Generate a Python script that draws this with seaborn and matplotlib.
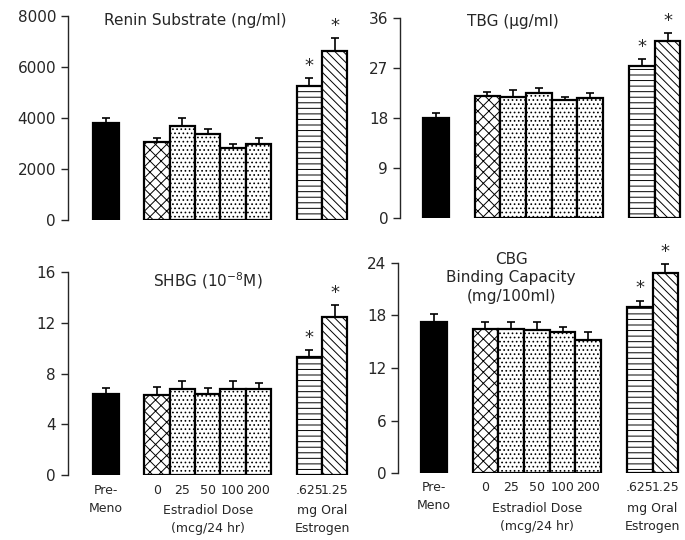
import numpy as np
import pandas as pd
import seaborn as sns
import matplotlib.pyplot as plt
from matplotlib import transforms

# Values (mean and upper SEM)
x_labels = ['Pre-\nMeno', '0', '25', '50', '100', '200', '.625', '1.25']

renin = [3800, 3030, 3660, 3370, 2810, 2970, 5230, 6630]
renin_err = [190, 170, 330, 200, 170, 230, 330, 500]

tbg = [18.0, 22.0, 21.9, 22.5, 21.3, 21.7, 27.4, 32.0]
tbg_err = [0.9, 0.8, 1.2, 0.9, 0.6, 0.9, 1.2, 1.3]

shbg = [6.4, 6.3, 6.8, 6.4, 6.8, 6.8, 9.3, 12.5]
shbg_err = [0.45, 0.65, 0.6, 0.45, 0.6, 0.5, 0.6, 0.9]

cbg = [17.3, 16.4, 16.4, 16.3, 16.1, 15.2, 19.0, 22.8]
cbg_err = [0.9, 0.9, 0.8, 0.9, 0.6, 0.9, 0.7, 1.1]

significant = [False, False, False, False, False, False, True, True]

# Layout / styling
bar_pos = [0, 2, 3, 4, 5, 6, 8, 9]
hatches = ['', 'xxx', '....', '....', '....', '....', '---', '\\\\\\\\']
faces = ['black'] + ['white'] * 7

sns.set_style('ticks')
plt.rcParams['font.family'] = ['DejaVu Sans']
plt.rcParams['hatch.linewidth'] = 0.7

fig = plt.figure(figsize=(6.85, 5.4), dpi=100)


def draw_panel(rect, xlim, vals, errs, ymax, step, title, tx, ty, show_x):
    ax = fig.add_axes(rect)
    df = pd.DataFrame({'pos': bar_pos, 'val': vals})
    sns.barplot(data=df, x='pos', y='val', native_scale=True, width=1.0,
                color='white', edgecolor='black', linewidth=1.6,
                errorbar=None, ax=ax)
    for p, h, fc in zip(ax.patches, hatches, faces):
        p.set_hatch(h)
        p.set_facecolor(fc)
    ax.errorbar(bar_pos, vals, yerr=[np.zeros(len(vals)), errs], fmt='none',
                ecolor='black', elinewidth=1.2, capsize=3, capthick=1.2)

    # asterisks for significant bars
    for x, v, e, s in zip(bar_pos, vals, errs, significant):
        if s:
            ax.text(x, v + e + ymax * 0.015, '*', ha='center', va='bottom',
                    fontsize=13)

    ax.set_xlim(*xlim)
    ax.set_ylim(0, ymax)
    ax.set_yticks(np.arange(0, ymax + step / 2, step))
    ax.set_ylabel('')
    ax.set_xlabel('')
    for side in ['top', 'right', 'bottom']:
        ax.spines[side].set_visible(False)
    ax.spines['left'].set_linewidth(1.0)
    ax.tick_params(axis='y', direction='out', length=5, width=1, labelsize=11)

    trans = transforms.blended_transform_factory(ax.transData, ax.transAxes)
    ax.text(tx, ty, title, transform=trans, ha='center', va='center',
            fontsize=11, linespacing=1.3)

    if show_x:
        ax.set_xticks(bar_pos)
        ax.set_xticklabels(x_labels, fontsize=9, linespacing=1.5)
        ax.tick_params(axis='x', length=0, pad=6)
        ax.text(4, -0.14, 'Estradiol Dose\n(mcg/24 hr)', transform=trans,
                ha='center', va='top', fontsize=9, linespacing=1.5)
        ax.text(8.5, -0.14, 'mg Oral\nEstrogen', transform=trans,
                ha='center', va='top', fontsize=9, linespacing=1.5)
    else:
        ax.set_xticks([])
    return ax


draw_panel([0.099, 0.593, 0.412, 0.378], (-1.5, 9.6), renin, renin_err,
           8000, 2000, 'Renin Substrate (ng/ml)', 3.5, 0.975, False)
draw_panel([0.584, 0.596, 0.413, 0.370], (-1.4, 9.6), tbg, tbg_err,
           36, 9, 'TBG (\u03bcg/ml)', 3.0, 0.985, False)
draw_panel([0.099, 0.120, 0.412, 0.376], (-1.5, 9.6), shbg, shbg_err,
           16, 4, 'SHBG (10$^{-8}$M)', 4.0, 0.96, True)
draw_panel([0.581, 0.124, 0.413, 0.389], (-1.4, 9.6), cbg, cbg_err,
           24, 6, 'CBG\nBinding Capacity\n(mg/100ml)', 3.0, 0.93, True)

plt.savefig('out.png', dpi=100)
